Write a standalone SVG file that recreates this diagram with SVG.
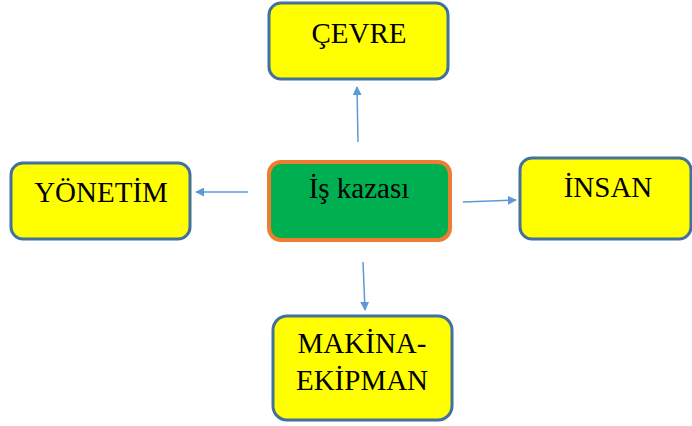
<svg xmlns="http://www.w3.org/2000/svg" width="692" height="426" viewBox="0 0 692 426">
  <style>
    .box { fill: #FFFF00; stroke: #41719C; stroke-width: 3; }
    .center { fill: #00B050; stroke: #ED7D31; stroke-width: 4; }
    .lbl { font-family: "Liberation Serif", "Times New Roman", serif; font-size: 29px; fill: #000; text-anchor: middle; }
    .conn { stroke: #5B9BD5; stroke-width: 1.5; fill: none; marker-end: url(#arr); }
  </style>
  <defs>
    <marker id="arr" viewBox="0 0 10 10" refX="9" refY="5" markerWidth="9" markerHeight="9" markerUnits="userSpaceOnUse" orient="auto">
      <path d="M0,0 L10,5 L0,10 z" fill="#5B9BD5"/>
    </marker>
  </defs>
  <g id="connectors">
    <line class="conn" x1="358" y1="142" x2="357" y2="87"/>
    <line class="conn" x1="248" y1="192" x2="196" y2="192"/>
    <line class="conn" x1="463" y1="202" x2="516" y2="200"/>
    <line class="conn" x1="363" y1="262" x2="365" y2="310"/>
  </g>
  <g id="cevre">
    <rect class="box" x="269" y="3" width="179" height="76" rx="12"/>
    <text class="lbl" x="359" y="43">ÇEVRE</text>
  </g>
  <g id="yonetim">
    <rect class="box" x="11" y="163" width="179" height="76" rx="12"/>
    <text class="lbl" x="101" y="202">YÖNETİM</text>
  </g>
  <g id="is-kazasi">
    <rect class="center" x="269" y="162" width="181" height="78" rx="12"/>
    <text class="lbl" x="359" y="198">İş kazası</text>
  </g>
  <g id="insan">
    <rect class="box" x="520" y="158" width="171" height="81" rx="12"/>
    <text class="lbl" x="608" y="197">İNSAN</text>
  </g>
  <g id="makina">
    <rect class="box" x="273" y="316" width="179" height="104" rx="14"/>
    <text class="lbl" x="362" y="353">MAKİNA-</text>
    <text class="lbl" x="362" y="390">EKİPMAN</text>
  </g>
</svg>
